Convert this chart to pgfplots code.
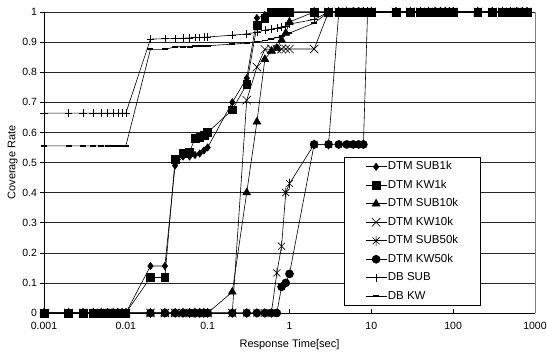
\documentclass[border=0pt]{standalone}
\usepackage{pgfplots}
\pgfplotsset{compat=1.18}
\usepackage{pgfplotstable}
\usepackage{fontspec}
\setmainfont{Liberation Sans}
\pgfdeclareplotmark{xast}{%
  \pgfpathmoveto{\pgfqpoint{-.7\pgfplotmarksize}{-.7\pgfplotmarksize}}%
  \pgfpathlineto{\pgfqpoint{.7\pgfplotmarksize}{.7\pgfplotmarksize}}%
  \pgfpathmoveto{\pgfqpoint{-.7\pgfplotmarksize}{.7\pgfplotmarksize}}%
  \pgfpathlineto{\pgfqpoint{.7\pgfplotmarksize}{-.7\pgfplotmarksize}}%
  \pgfpathmoveto{\pgfqpoint{0pt}{-\pgfplotmarksize}}%
  \pgfpathlineto{\pgfqpoint{0pt}{\pgfplotmarksize}}%
  \pgfusepathqstroke}
\pgfplotstableread{
x sub1k kw1k sub10k kw10k sub50k kw50k dbsub dbkw
0.001 0 0 0 0 0 0 0.664 0.555
0.002 0 0 0 0 0 0 0.664 0.555
0.003 0 0 0 0 0 0 0.664 0.555
0.004 0 0 0 0 0 0 0.664 0.555
0.005 0 0 0 0 0 0 0.664 0.555
0.006 0 0 0 0 0 0 0.664 0.555
0.007 0 0 0 0 0 0 0.664 0.555
0.008 0 0 0 0 0 0 0.664 0.555
0.009 0 0 0 0 0 0 0.664 0.555
0.01 0 0 0 0 0 0 0.664 0.555
0.02 0.156 0.118 0 0 0 0 0.910 0.876
0.03 0.156 0.118 0 0 0 0 0.911 0.876
0.04 0.49 0.51 0 0 0 0 0.912 0.884
0.05 0.52 0.53 0 0 0 0 0.913 0.885
0.06 0.52 0.535 0 0 0 0 0.914 0.885
0.07 0.525 0.58 0 0 0 0 0.915 0.886
0.08 0.53 0.585 0 0 0 0 0.915 0.886
0.09 0.54 0.59 0 0 0 0 0.916 0.887
0.1 0.55 0.60 0 0 0 0 0.917 0.888
0.2 0.70 0.675 0.07 0 0 0 0.923 0.893
0.3 0.78 0.76 0.40 0.707 0 0 0.927 0.897
0.4 0.98 0.955 0.635 0.817 0 0 0.933 0.90
0.5 0.99 0.98 0.843 0.876 0 0 0.94 0.905
0.6 1 1 0.87 0.877 0 0 0.943 0.91
0.7 1 1 0.88 0.877 0.133 0 0.947 0.915
0.8 1 1 0.907 0.877 0.222 0.087 0.95 0.92
0.9 1 1 0.93 0.877 0.40 0.10 0.953 0.925
1 1 1 0.967 0.877 0.43 0.13 0.96 0.93
2 1 1 1 0.877 0.56 0.56 0.975 0.963
3 1 1 1 1 0.56 0.56 1 1
4 1 1 1 1 1 0.56 1 1
5 1 1 1 1 1 0.56 1 1
6 1 1 1 1 1 0.56 1 1
7 1 1 1 1 1 0.56 1 1
8 1 1 1 1 1 0.56 1 1
9 1 1 1 1 1 1 1 1
10 1 1 1 1 1 1 1 1
20 1 1 1 1 1 1 1 1
30 1 1 1 1 1 1 1 1
40 1 1 1 1 1 1 1 1
50 1 1 1 1 1 1 1 1
60 1 1 1 1 1 1 1 1
70 1 1 1 1 1 1 1 1
80 1 1 1 1 1 1 1 1
90 1 1 1 1 1 1 1 1
100 1 1 1 1 1 1 1 1
200 1 1 1 1 1 1 1 1
300 1 1 1 1 1 1 1 1
400 1 1 1 1 1 1 1 1
500 1 1 1 1 1 1 1 1
600 1 1 1 1 1 1 1 1
700 1 1 1 1 1 1 1 1
800 1 1 1 1 1 1 1 1
}\datatable
\begin{document}
\begin{tikzpicture}
\begin{axis}[
  name=ax, at={(0,0)}, anchor=south west,
  width=491pt, height=301pt, scale only axis,
  xmode=log, xmin=0.001, xmax=1000, ymin=0, ymax=1,
  xtick={0.001,0.01,0.1,1,10,100,1000},
  xticklabels={0.001,0.01,0.1,1,10,100,1000},
  ytick={0,0.1,0.2,0.3,0.4,0.5,0.6,0.7,0.8,0.9,1},
  yticklabels={0,0.1,0.2,0.3,0.4,0.5,0.6,0.7,0.8,0.9,1},
  xminorticks=false, yminorticks=false,
  axis lines*=left,
  axis line style={black, line width=0.6pt},
  tick align=inside, major tick length=3.5pt,
  tick style={black, line width=0.5pt},
  y tick style={xshift=-3.5pt},
  ymajorgrids, major grid style={black!85, line width=0.5pt},
  tick label style={font=\fontsize{10.5}{12}\selectfont},
  xticklabel style={yshift=-6pt},
  yticklabel style={xshift=-3.5pt},
  xlabel={Response Time[sec]},
  ylabel={Coverage Rate},
  label style={font=\fontsize{11}{13}\selectfont},
  xlabel style={at={(axis description cs:0.5,-0.1063)}, anchor=center},
  ylabel style={at={(axis description cs:-0.0640,0.5)}, anchor=center},
  every axis plot/.append style={black, line width=0.6pt},
  legend image code/.code={\draw[mark repeat=2,mark phase=2,#1] plot coordinates {(0pt,0pt) (10.5pt,0pt) (21pt,0pt)};},
  legend cell align=left,
  legend style={at={(0.611,0.023)}, anchor=south west, draw=black, line width=0.6pt,
    font=\fontsize{11.5}{13}\selectfont,
    inner xsep=21pt, inner ysep=4pt, row sep=7.5pt,
    nodes={inner xsep=1pt, inner ysep=0pt, text height=8.5pt, text depth=2.5pt}},
]
\addplot[mark=diamond*, mark size=3.6pt] table[x=x,y=sub1k] {\datatable};
\addlegendentry{DTM SUB1k}
\addplot[mark=square*, mark size=3.9pt] table[x=x,y=kw1k] {\datatable};
\addlegendentry{DTM KW1k}
\addplot[mark=triangle*, mark size=4.5pt] table[x=x,y=sub10k] {\datatable};
\addlegendentry{DTM SUB10k}
\addplot[mark=x, mark size=6pt] table[x=x,y=kw10k] {\datatable};
\addlegendentry{DTM KW10k}
\addplot[mark=xast, mark size=5pt] table[x=x,y=sub50k] {\datatable};
\addlegendentry{DTM SUB50k}
\addplot[mark=*, mark size=4pt] table[x=x,y=kw50k] {\datatable};
\addlegendentry{DTM KW50k}
\addplot[mark=+, mark size=3.8pt] table[x=x,y=dbsub] {\datatable};
\addlegendentry{DB SUB}
\addplot[mark=-, mark size=3pt, mark options={line width=1.8pt}] table[x=x,y=dbkw] {\datatable};
\addlegendentry{DB KW}
\end{axis}
\draw[gray, line width=0.6pt] (ax.south east) -- (ax.north east);
\pgfresetboundingbox
\path (-44pt,-45pt) rectangle (503pt,313pt);
\end{tikzpicture}
\end{document}
